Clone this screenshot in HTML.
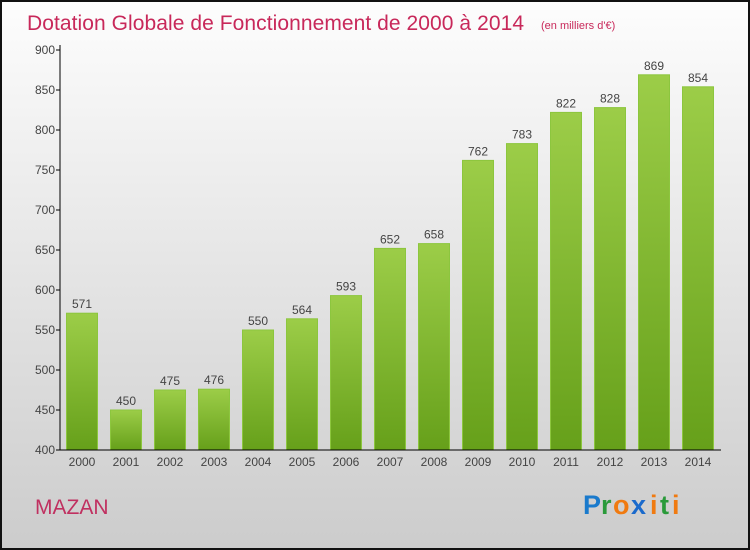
<!DOCTYPE html>
<html><head><meta charset="utf-8"><style>
body{margin:0;width:750px;height:550px;overflow:hidden}
svg{display:block}
text{font-family:"Liberation Sans",sans-serif}
</style></head><body>
<svg id="chart" width="750" height="550">
<defs>
<linearGradient id="bg" x1="0" y1="0" x2="0" y2="1"><stop offset="0" stop-color="#fdfdfd"/><stop offset="1" stop-color="#cccccc"/></linearGradient>
<linearGradient id="bar" x1="0" y1="0" x2="0" y2="1"><stop offset="0" stop-color="#9ccd48"/><stop offset="1" stop-color="#66a01a"/></linearGradient>
</defs>
<rect x="1" y="1" width="748" height="548" fill="url(#bg)" stroke="#111" stroke-width="2"/>
<text x="27" y="30" font-size="21" fill="#c8285a" textLength="497">Dotation Globale de Fonctionnement de 2000 à 2014</text>
<text x="541" y="29" font-size="11" fill="#c8285a">(en milliers d'€)</text>
<text x="35" y="514" font-size="21" fill="#c03060">MAZAN</text>
<g font-size="27" font-weight="bold">
<text x="583" y="514" fill="#1a7acc">P</text><text x="601" y="514" fill="#2a9a3a">r</text><text x="613" y="514" fill="#f07a10">o</text><text x="631" y="514" fill="#1a6acc">x</text><text x="650" y="514" fill="#f07a10">i</text><text x="660" y="514" fill="#2a9a3a">t</text><text x="672" y="514" fill="#f07a10">i</text>
</g>
<g id="plot"></g>
</svg>
<script>
const years=["2000","2001","2002","2003","2004","2005","2006","2007","2008","2009","2010","2011","2012","2013","2014"];
const values=[571,450,475,476,550,564,593,652,658,762,783,822,828,869,854];
const yTicks=[400,450,500,550,600,650,700,750,800,850,900];
const NS="http://www.w3.org/2000/svg";
const g=document.getElementById('plot');
const y=v=>450-(v-400)*0.8;
const x=i=>82+i*44;
function mk(t,a,p){const e=document.createElementNS(NS,t);for(const k in a)e.setAttribute(k,a[k]);(p||g).appendChild(e);return e;}
yTicks.forEach(v=>{
 const l=mk('line',{x1:56,x2:60,y1:y(v),y2:y(v),stroke:'#000'});
 
 
 const t=mk('text',{x:55,y:y(v)+4,'text-anchor':'end','font-size':12,fill:'#444'});t.textContent=v;
 
 
});
values.forEach((v,i)=>{
 const r=mk('rect',{x:x(i)-15.5,y:y(v),width:31,height:450-y(v),fill:'url(#bar)',stroke:'#8cc63e','stroke-width':1});
 
 
 const t=mk('text',{x:x(i),y:y(v)-5,'text-anchor':'middle','font-size':12,fill:'#444'});t.textContent=v;
 
 
 const xl=mk('text',{x:x(i),y:466,'text-anchor':'middle','font-size':12,fill:'#444'});xl.textContent=years[i];
 
 
});
const ya=mk('line',{x1:60,x2:60,y1:45,y2:450,stroke:'#000'});


const xa=mk('line',{x1:60,x2:721,y1:450,y2:450,stroke:'#000'});


</script>
</body></html>
